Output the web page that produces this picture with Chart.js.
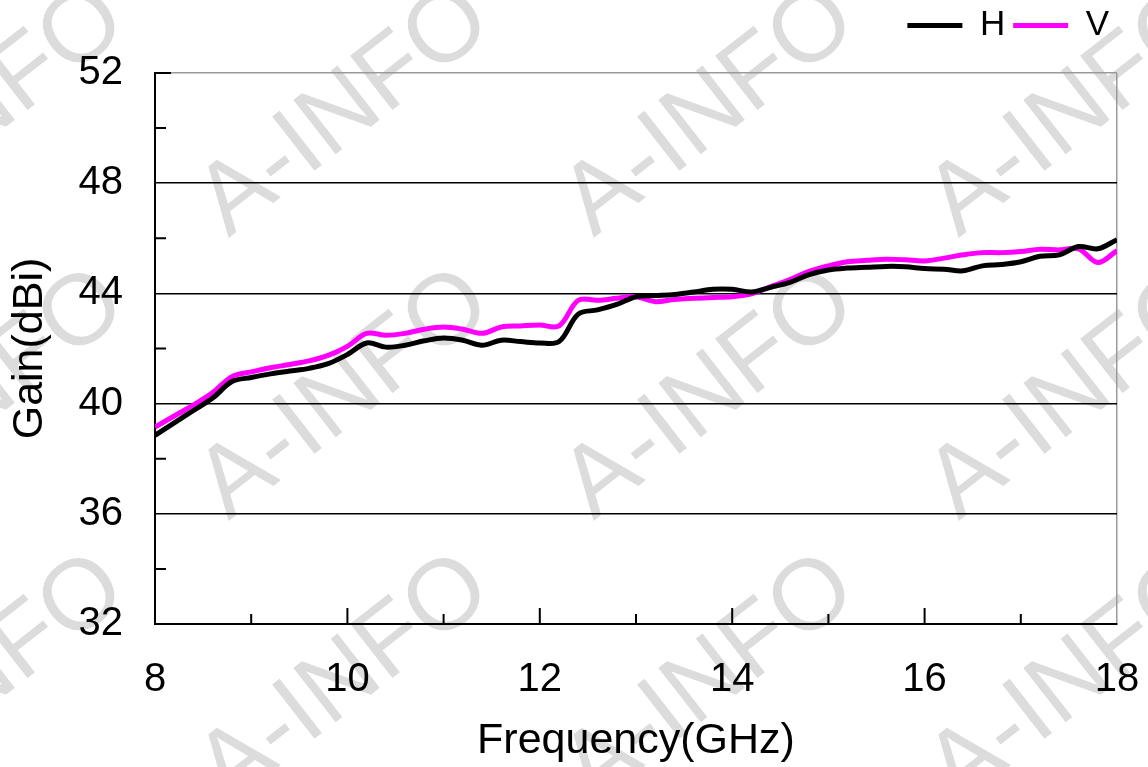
<!DOCTYPE html>
<html>
<head>
<meta charset="utf-8">
<script src="https://cdn.jsdelivr.net/npm/chart.js@4/dist/chart.umd.min.js"></script>
<style>
  html, body { margin: 0; padding: 0; background: #fff; }
  #wrap { width: 1148px; height: 767px; }
</style>
</head>
<body>
<div id="wrap"><canvas id="gainChart" width="1148" height="767"></canvas></div>
<script>
const FREQ = [8.0, 8.2, 8.4, 8.6, 8.8, 9.0, 9.2, 9.4, 9.6, 9.8,
  10.0, 10.2, 10.4, 10.6, 10.8, 11.0, 11.2, 11.4, 11.6, 11.8,
  12.0, 12.2, 12.4, 12.6, 12.8, 13.0, 13.2, 13.4, 13.6, 13.8,
  14.0, 14.2, 14.4, 14.6, 14.8, 15.0, 15.2, 15.4, 15.6, 15.8,
  16.0, 16.2, 16.4, 16.6, 16.8, 17.0, 17.2, 17.4, 17.6, 17.8, 18.0];

const GAIN_H = [38.85, 39.3, 39.75, 40.2, 40.8, 40.95, 41.08, 41.18, 41.28, 41.45,
  41.78, 42.2, 42.05, 42.12, 42.28, 42.38, 42.3, 42.12, 42.3, 42.25,
  42.2, 42.25, 43.25, 43.4, 43.6, 43.88, 43.92, 43.96, 44.05, 44.15,
  44.15, 44.05, 44.22, 44.4, 44.68, 44.85, 44.92, 44.95, 44.98, 44.97,
  44.9, 44.88, 44.82, 45.0, 45.05, 45.15, 45.35, 45.4, 45.7, 45.62, 45.95];

const GAIN_V = [39.15, 39.55, 39.95, 40.4, 40.98, 41.15, 41.3, 41.42, 41.55, 41.75,
  42.08, 42.55, 42.48, 42.55, 42.7, 42.78, 42.7, 42.55, 42.78, 42.82,
  42.85, 42.82, 43.75, 43.75, 43.82, 43.88, 43.7, 43.78, 43.82, 43.85,
  43.88, 43.98, 44.25, 44.5, 44.8, 45.0, 45.15, 45.2, 45.24, 45.22,
  45.18, 45.28, 45.4, 45.48, 45.48, 45.52, 45.6, 45.58, 45.62, 45.12, 45.55];

const X_MINOR = [9, 11, 13, 15, 17];
const X_MAJOR = [10, 12, 14, 16];
const Y_MINOR = [34, 38, 42, 46, 50];
const Y_MAJOR = [52];

const FONT = "'Liberation Sans', Arial, sans-serif";

// grey diagonal "A-INFO" marks behind the plot
const watermark = {
  id: 'watermark',
  beforeDraw(chart) {
    const ctx = chart.ctx;
    ctx.save();
    ctx.fillStyle = '#dcdcdc';
    ctx.font = '100px ' + FONT;
    ctx.textAlign = 'center';
    ctx.textBaseline = 'middle';
    [-20, 345, 710, 1075].forEach(cx => {
      [112, 395, 680].forEach(cy => {
        ctx.save();
        ctx.translate(cx, cy);
        ctx.rotate(-38 * Math.PI / 180);
        ctx.fillText('A-INFO', 0, 0);
        ctx.restore();
      });
    });
    ctx.restore();
  }
};

// tick marks that point into the plot
const innerTicks = {
  id: 'innerTicks',
  beforeDatasetsDraw(chart) {
    const ctx = chart.ctx;
    const xs = chart.scales.x, ys = chart.scales.y;
    const a = chart.chartArea;
    ctx.save();
    ctx.strokeStyle = '#000';
    ctx.lineWidth = 2;
    ctx.beginPath();
    X_MAJOR.forEach(v => { const p = xs.getPixelForValue(v); ctx.moveTo(p, a.bottom); ctx.lineTo(p, a.bottom - 16); });
    X_MINOR.forEach(v => { const p = xs.getPixelForValue(v); ctx.moveTo(p, a.bottom); ctx.lineTo(p, a.bottom - 10); });
    Y_MINOR.forEach(v => { const p = ys.getPixelForValue(v); ctx.moveTo(a.left, p); ctx.lineTo(a.left + 11, p); });
    Y_MAJOR.forEach(v => { const p = ys.getPixelForValue(v); ctx.moveTo(a.left, p); ctx.lineTo(a.left + 16, p); });
    ctx.stroke();
    ctx.restore();
  }
};

const toPoints = arr => arr.map((g, i) => ({ x: FREQ[i], y: g }));

new Chart(document.getElementById('gainChart'), {
  type: 'line',
  data: {
    datasets: [
      {
        label: 'H',
        data: toPoints(GAIN_H),
        borderColor: '#000000',
        backgroundColor: '#000000',
        borderWidth: 5,
        pointRadius: 0,
        tension: 0.35,
        fill: false
      },
      {
        label: 'V',
        data: toPoints(GAIN_V),
        borderColor: '#ff00ff',
        backgroundColor: '#ff00ff',
        borderWidth: 5,
        pointRadius: 0,
        tension: 0.35,
        fill: false
      }
    ]
  },
  options: {
    responsive: false,
    animation: false,
    layout: { padding: { left: 0, right: 31, top: 0, bottom: 0 } },
    plugins: {
      tooltip: { enabled: false },
      legend: {
        position: 'top',
        align: 'end',
        labels: {
          color: '#000',
          font: { family: FONT, size: 35 },
          boxWidth: 55,
          boxHeight: 5,
          padding: 8,
          generateLabels(chart) {
            return chart.data.datasets.map((d, i) => ({
              text: d.label,
              fillStyle: d.borderColor,
              strokeStyle: d.borderColor,
              lineWidth: 0,
              fontColor: '#000',
              datasetIndex: i
            }));
          }
        }
      }
    },
    scales: {
      x: {
        type: 'linear',
        min: 8,
        max: 18,
        afterFit: s => { s.height = 143; s.paddingLeft = 0; s.paddingRight = 0; },
        ticks: {
          stepSize: 2,
          color: '#000',
          font: { family: FONT, size: 40 },
          padding: 32
        },
        grid: {
          drawTicks: false,
          lineWidth: 1.5,
          color: c => (c.tick && c.tick.value === 18 ? '#9a9a9a' : 'rgba(0,0,0,0)')
        },
        border: { display: true, color: '#000', width: 2 },
        title: {
          display: true,
          text: 'Frequency(GHz)',
          color: '#000',
          font: { family: FONT, size: 43 },
          padding: { top: 0, bottom: 0 }
        }
      },
      // empty strip that keeps the plot top below the legend
      top: {
        type: 'linear',
        position: 'top',
        display: true,
        afterFit: s => { s.height = 20; s.paddingLeft = 0; s.paddingRight = 0; },
        ticks: { display: false },
        grid: { display: false, drawTicks: false },
        border: { display: false },
        title: { display: false }
      },
      y: {
        min: 32,
        max: 52,
        afterFit: s => { s.width = 155; s.paddingTop = 0; s.paddingBottom = 0; },
        ticks: {
          stepSize: 4,
          color: '#000',
          font: { family: FONT, size: 40 },
          padding: 32
        },
        grid: {
          drawTicks: false,
          lineWidth: 1.5,
          color: c => (c.tick && c.tick.value === 52 ? '#9a9a9a' : '#000')
        },
        border: { display: true, color: '#000', width: 2 },
        title: {
          display: true,
          text: 'Gain(dBi)',
          color: '#000',
          font: { family: FONT, size: 43 },
          padding: { top: 4, bottom: 0 }
        }
      }
    }
  },
  plugins: [watermark, innerTicks]
});
</script>
</body>
</html>
